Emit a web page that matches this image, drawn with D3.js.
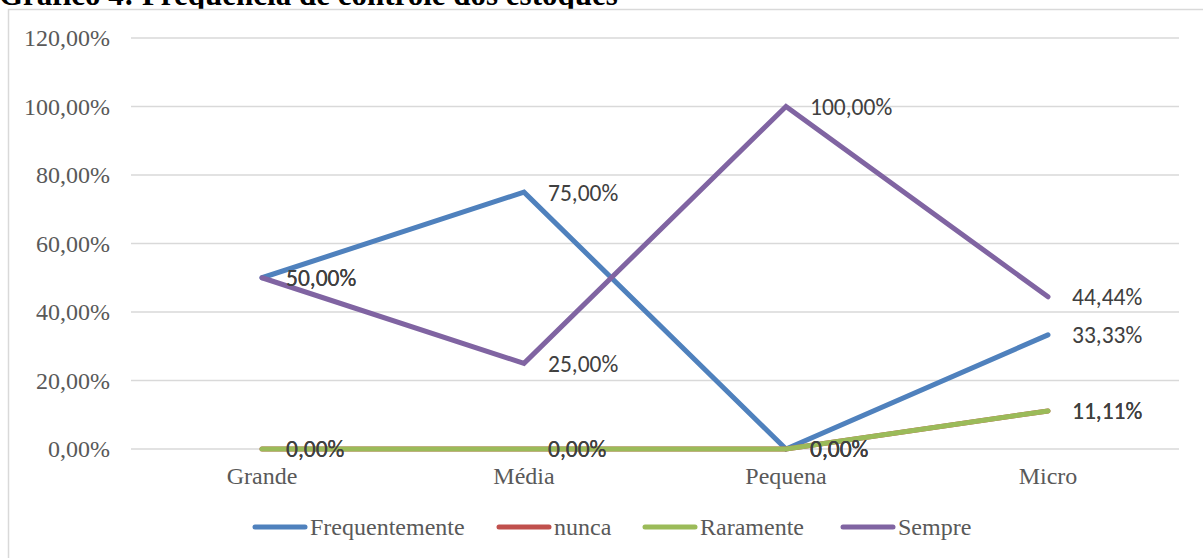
<!DOCTYPE html>
<html>
<head>
<meta charset="utf-8">
<script src="https://cdn.jsdelivr.net/npm/d3@7"></script>
<style>
  html, body { margin: 0; padding: 0; background: #fff; }
  svg { display: block; }
</style>
</head>
<body>
<svg id="chart" width="1203" height="558"></svg>
<script>
// Porte das empresas
const categories = ["Grande", "Média", "Pequena", "Micro"];

// Frequência de controle dos estoques (%)
const frequentemente = [50, 75, 0, 33.33];
const nunca = [0, 0, 0, 11.11];
const raramente = [0, 0, 0, 11.11];
const sempre = [50, 25, 100, 44.44];

const seriesNames = ["Frequentemente", "nunca", "Raramente", "Sempre"];
const seriesColors = ["#4F81BD", "#C0504D", "#9BBB59", "#8064A2"];
const yTicks = [0, 20, 40, 60, 80, 100, 120];

const series = [frequentemente, nunca, raramente, sempre].map((vals, i) => ({
  name: seriesNames[i],
  color: seriesColors[i],
  values: vals
}));

const svg = d3.select("#chart");
const W = 1203, H = 558;
const serif = "'Liberation Serif', 'Times New Roman', serif";

const fmt = v => v.toFixed(2).replace(".", ",") + "%";

// Título (parcialmente cortado no topo)
svg.append("text")
  .attr("x", -1)
  .attr("y", 5)
  .attr("font-family", serif)
  .attr("font-weight", "bold")
  .attr("font-size", 31)
  .attr("fill", "#000")
  .text("Gráfico 4: Frequência de controle dos estoques");

// Moldura da área do gráfico
svg.append("rect")
  .attr("x", 8.5).attr("y", 9.5)
  .attr("width", W + 20).attr("height", H + 20)
  .attr("fill", "#fff")
  .attr("stroke", "#D9D9D9")
  .attr("stroke-width", 1.5);

const plot = { left: 131, right: 1179, top: 38, bottom: 449 };

const x = d3.scaleBand()
  .domain(categories)
  .range([plot.left, plot.right]);

const y = d3.scaleLinear()
  .domain([0, 120])
  .range([plot.bottom, plot.top]);

// Linhas de grade
svg.append("g")
  .selectAll("line")
  .data(yTicks)
  .join("line")
  .attr("x1", plot.left).attr("x2", plot.right)
  .attr("y1", d => y(d)).attr("y2", d => y(d))
  .attr("stroke", "#D9D9D9")
  .attr("stroke-width", 1.5);

// Eixo Y
const yAxis = svg.append("g")
  .attr("transform", `translate(${plot.left},0)`)
  .call(d3.axisLeft(y).tickValues(yTicks).tickFormat(fmt).tickSize(0).tickPadding(21));
yAxis.select(".domain").remove();
yAxis.selectAll("text")
  .attr("font-family", serif)
  .attr("font-size", 24)
  .attr("fill", "#595959");

// Eixo X
const xAxis = svg.append("g")
  .attr("transform", `translate(0,${plot.bottom})`)
  .call(d3.axisBottom(x).tickSize(0).tickPadding(18));
xAxis.select(".domain").remove();
xAxis.selectAll("text")
  .attr("font-family", serif)
  .attr("font-size", 24)
  .attr("fill", "#595959");

const cx = c => x(c) + x.bandwidth() / 2;

const line = d3.line()
  .x((d, i) => cx(categories[i]))
  .y(d => y(d));

// Linhas das séries
svg.append("g")
  .selectAll("path")
  .data(series)
  .join("path")
  .attr("d", s => line(s.values))
  .attr("fill", "none")
  .attr("stroke", s => s.color)
  .attr("stroke-width", 5)
  .attr("stroke-linecap", "round")
  .attr("stroke-linejoin", "miter");

// Rótulos de dados
const labels = svg.append("g");
series.forEach(s => {
  labels.selectAll(null)
    .data(s.values)
    .join("text")
    .attr("x", (d, i) => cx(categories[i]) + 24)
    .attr("y", d => y(d))
    .attr("dy", "0.36em")
    .attr("font-family", "Carlito, Lato, 'Open Sans', sans-serif")
    .attr("font-size", 23.5)
    .attr("fill", "#404040")
    .text(d => fmt(d));
});

// Legenda
const legendX = [253, 497, 643, 841];
const legend = svg.append("g");
series.forEach((s, i) => {
  const g = legend.append("g").attr("transform", `translate(${legendX[i]},527)`);
  g.append("line")
    .attr("x1", 2).attr("x2", 52)
    .attr("y1", 0).attr("y2", 0)
    .attr("stroke", s.color)
    .attr("stroke-width", 5)
    .attr("stroke-linecap", "round");
  g.append("text")
    .attr("x", 57)
    .attr("y", 0)
    .attr("dy", "0.33em")
    .attr("font-family", serif)
    .attr("font-size", 24)
    .attr("fill", "#595959")
    .text(s.name);
});
</script>
</body>
</html>
